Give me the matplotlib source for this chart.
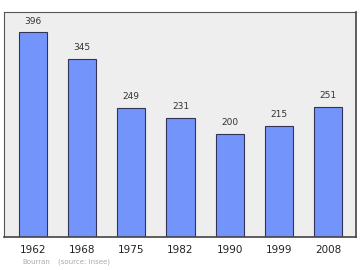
import matplotlib
matplotlib.use("Agg")
import matplotlib.pyplot as plt

years = ["1962", "1968", "1975", "1982", "1990", "1999", "2008"]
population = [396, 345, 249, 231, 200, 215, 251]

fig = plt.figure(figsize=(3.6, 2.7), dpi=100)
ax = fig.add_axes([4/360, 1 - 237/270, 352/360, 225/270])
ax.set_facecolor("#eeeeee")
x = list(range(len(years)))
ax.bar(x, population, width=0.57, color="#7395fb", edgecolor="#333355", linewidth=0.8, zorder=2)
for xi, v in zip(x, population):
    ax.annotate(str(v), (xi, v), xytext=(0, 5), textcoords="offset points",
                ha="center", va="bottom", fontsize=6.5, color="#333333")
ax.set_xlim(-0.59, 6.57)
ax.set_ylim(0, max(population) * 1.1)
ax.set_yticks([])
ax.set_xticks(x)
ax.set_xticklabels(years, fontsize=7.5, color="#222222")
ax.tick_params(axis="x", length=0, pad=6)
for s in ["left", "top"]:
    ax.spines[s].set_color("#555555")
    ax.spines[s].set_linewidth(0.8)
for s in ["right", "bottom"]:
    ax.spines[s].set_color("#444444")
    ax.spines[s].set_linewidth(1.2)
fig.text(22/360, 1 - 262/270, "Bourran", fontsize=5, color="#aaaaaa", va="center")
fig.text(58/360, 1 - 262/270, "(source: Insee)", fontsize=5, color="#aaaaaa", va="center")
fig.savefig("out.png", dpi=100)
